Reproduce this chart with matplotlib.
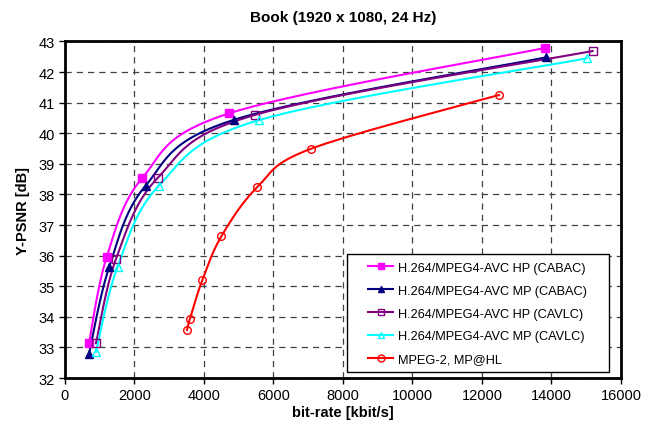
import numpy as np
import matplotlib.pyplot as plt
from matplotlib.patches import Rectangle

plt.rcParams["font.family"] = ["Liberation Sans", "DejaVu Sans"]

# bit-rate [kbit/s] and Y-PSNR [dB]
hp_cabac_x = [691, 1199, 2225, 4719, 13813]
hp_cabac_y = [33.15, 35.95, 38.54, 40.65, 42.79]
mp_cabac_x = [691, 1276, 2321, 4863, 13833]
mp_cabac_y = [32.79, 35.64, 38.29, 40.44, 42.48]
hp_cavlc_x = [892, 1468, 2667, 5468, 15185]
hp_cavlc_y = [33.14, 35.89, 38.54, 40.60, 42.69]
mp_cavlc_x = [892, 1516, 2705, 5583, 15012]
mp_cavlc_y = [32.86, 35.64, 38.29, 40.43, 42.45]
mpeg2_x = [3511, 3597, 3952, 4499, 5534, 7070, 12489]
mpeg2_y = [33.57, 33.94, 35.20, 36.63, 38.24, 39.49, 41.25]

labels = ["H.264/MPEG4-AVC HP (CABAC)", "H.264/MPEG4-AVC MP (CABAC)",
          "H.264/MPEG4-AVC HP (CAVLC)", "H.264/MPEG4-AVC MP (CAVLC)",
          "MPEG-2, MP@HL"]


def smooth(x, y, n=30):
    # Excel-like smoothed line: uniform Catmull-Rom in screen-ish units
    sx = np.asarray(x, float) * 34.75 / 1000.0
    sy = np.asarray(y, float) * 30.6
    p = np.column_stack([sx, sy])
    p = np.vstack([p[0], p, p[-1]])
    out = []
    t = np.linspace(0, 1, n)
    for i in range(1, len(p) - 2):
        p0, p1, p2, p3 = p[i - 1], p[i], p[i + 1], p[i + 2]
        c1 = p1 + (p2 - p0) / 6.0
        c2 = p2 - (p3 - p1) / 6.0
        seg = ((1 - t) ** 3)[:, None] * p1 + (3 * (1 - t) ** 2 * t)[:, None] * c1 \
            + (3 * (1 - t) * t ** 2)[:, None] * c2 + (t ** 3)[:, None] * p2
        out.append(seg if i == 1 else seg[1:])
    out = np.vstack(out)
    return out[:, 0] * 1000.0 / 34.75, out[:, 1] / 30.6


fig = plt.figure(figsize=(6.59, 4.31), dpi=100)
ax = fig.add_axes([0.0986, 0.1206, 0.8437, 0.7808])

series = [
    (hp_cabac_x, hp_cabac_y, "#FF00FF", "s", "#FF00FF"),
    (mp_cabac_x, mp_cabac_y, "#000080", "^", "#000080"),
    (hp_cavlc_x, hp_cavlc_y, "#800080", "s", "none"),
    (mp_cavlc_x, mp_cavlc_y, "#00FFFF", "^", "none"),
    (mpeg2_x, mpeg2_y, "#FF0000", "o", "none"),
]

for (x, y, c, m, fc), lab in zip(series, labels):
    xs, ys = smooth(x, y)
    ax.plot(xs, ys, color=c, lw=1.5, zorder=3)
    ax.plot(x, y, ls="none", marker=m, ms=5.5, mfc=fc, mec=c, mew=1.0, zorder=4)
    ax.plot([], [], color=c, lw=1.5, marker=m, ms=5, mfc=fc, mec=c, mew=1.0, label=lab)

ax.set_xlim(0, 16000)
ax.set_ylim(32, 43)
ax.set_xticks(np.arange(0, 16001, 2000))
ax.set_yticks(np.arange(32, 44, 1))
ax.grid(True, color="#404040", ls=(0, (5, 4)), lw=0.9)
ax.set_axisbelow(True)
for s in ax.spines.values():
    s.set_linewidth(2.0)
ax.tick_params(direction="out", length=4, width=1, labelsize=10.5, colors="black")

ax.set_title("Book (1920 x 1080, 24 Hz)", fontsize=11, fontweight="bold", pad=15)
ax.set_xlabel("bit-rate [kbit/s]", fontsize=10.5, fontweight="bold", labelpad=2)
ax.set_ylabel("Y-PSNR [dB]", fontsize=10.5, fontweight="bold", labelpad=6)

# legend box drawn separately so the left padding matches
box = Rectangle((0.5072, 0.0178), 0.4712, 0.3507, transform=ax.transAxes,
                facecolor="white", edgecolor="black", lw=1.0, zorder=5)
ax.add_patch(box)
leg = ax.legend(loc="center left", bbox_to_anchor=(0.545, 0.1917), fontsize=9.2,
                frameon=False, borderaxespad=0, borderpad=0,
                handlelength=1.96, handletextpad=0.4, labelspacing=0.85)
leg.set_zorder(6)

fig.savefig("out.png", dpi=100)
